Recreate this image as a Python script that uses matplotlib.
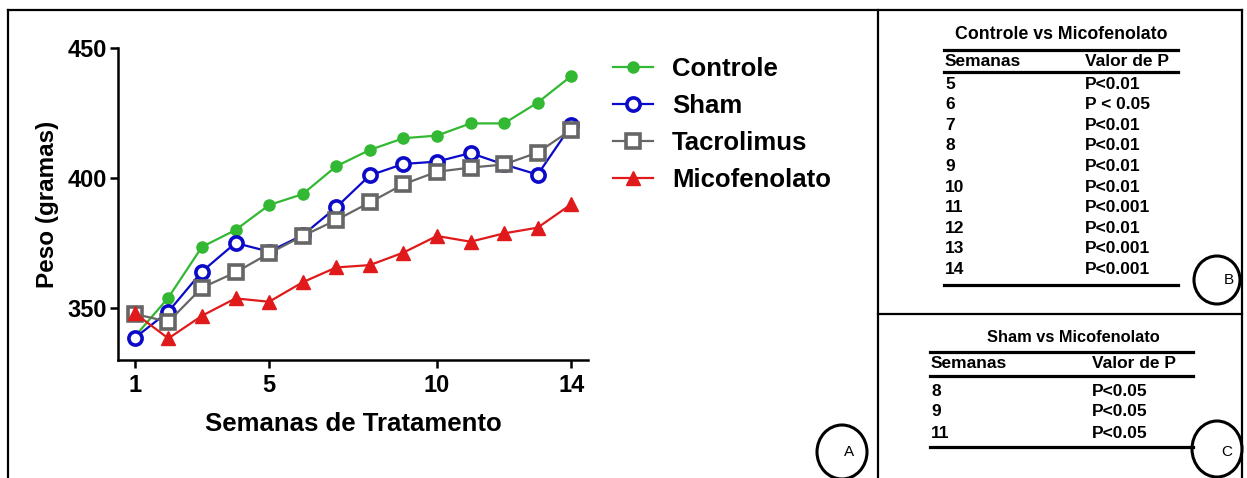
#!/usr/bin/env python3
"""Body weight over treatment weeks, plus P-value tables (panels A, B, C)."""

import matplotlib
matplotlib.use("Agg")
import matplotlib.pyplot as plt
from matplotlib.patches import Ellipse

plt.rcParams["font.family"] = ["Liberation Sans", "DejaVu Sans"]
plt.rcParams["font.weight"] = "bold"

# data
weeks = list(range(1, 15))
controle = [339, 354, 373.5, 380, 389.6, 393.8, 404.5, 410.8, 415.3, 416.3, 421, 421, 429, 439.2]
sham = [338.5, 348.6, 364, 375, 371.7, 378, 388.7, 401, 405.4, 406.3, 409.6, 405.2, 401.3, 420.2]
tacrolimus = [347.7, 344.7, 357.8, 363.7, 371, 377.7, 383.8, 390.6, 397.6, 402.4, 404, 405.2, 409.8, 418.5]
micofenolato = [348, 338.3, 347, 353.7, 352.4, 359.9, 365.6, 366.5, 371.3, 377.7, 375.5, 378.7, 380.9, 389.9]

xticks = [1, 5, 10, 14]
yticks = [350, 400, 450]

# table B
title_b = "Controle vs Micofenolato"
weeks_b = ["5", "6", "7", "8", "9", "10", "11", "12", "13", "14"]
pvals_b = ["P<0.01", "P < 0.05", "P<0.01", "P<0.01", "P<0.01", "P<0.01",
           "P<0.001", "P<0.01", "P<0.001", "P<0.001"]
# table C
title_c = "Sham vs Micofenolato"
weeks_c = ["8", "9", "11"]
pvals_c = ["P<0.05", "P<0.05", "P<0.05"]

W, H = 1247, 478
fig = plt.figure(figsize=(W / 100, H / 100), dpi=100)

# overlay in pixel coords for the frame, tables and panel letters
ov = fig.add_axes([0, 0, 1, 1])
ov.set_xlim(0, W)
ov.set_ylim(H, 0)
ov.axis("off")

lw_frame = 1.6
ov.plot([8, 1242], [10, 10], color="black", lw=lw_frame)
ov.plot([8, 8], [10, H], color="black", lw=lw_frame)
ov.plot([878, 878], [10, H], color="black", lw=lw_frame)
ov.plot([1242, 1242], [10, H], color="black", lw=lw_frame)
ov.plot([878, 1242], [314, 314], color="black", lw=lw_frame)


def draw_table(title, col1, col2, x0, x1, xc2, title_xy, y_line1, y_head, y_line2,
               rows_y, y_bottom, fs_title, fs):
    ov.text(title_xy[0], title_xy[1], title, ha="center", va="center",
            fontsize=fs_title, fontweight="bold")
    ov.plot([x0, x1], [y_line1, y_line1], color="black", lw=2.3)
    ov.text(x0 + 1, y_head, "Semanas", ha="left", va="center", fontsize=fs, fontweight="bold")
    ov.text(xc2, y_head, "Valor de P", ha="left", va="center", fontsize=fs, fontweight="bold")
    ov.plot([x0, x1], [y_line2, y_line2], color="black", lw=2.3)
    for y, a, b in zip(rows_y, col1, col2):
        ov.text(x0 + 1, y, a, ha="left", va="center", fontsize=fs, fontweight="bold")
        ov.text(xc2, y, b, ha="left", va="center", fontsize=fs, fontweight="bold")
    ov.plot([x0, x1], [y_bottom, y_bottom], color="black", lw=2.3)


rows_b = [84 + i * 20.6 for i in range(len(weeks_b))]
draw_table(title_b, weeks_b, pvals_b, 944, 1178, 1085, (1061, 34), 50, 61, 72,
           rows_b, 285, 12.8, 12.5)
rows_c = [391 + i * 21 for i in range(len(weeks_c))]
draw_table(title_c, weeks_c, pvals_c, 930, 1193, 1092, (1073, 337), 352, 364, 376,
           rows_c, 447, 11.8, 12.5)

for (cx, cy, w, h), lab, (tx, ty) in [((842, 452, 50, 54), "A", (849, 452)),
                                      ((1217, 280, 46, 48), "B", (1229, 280)),
                                      ((1217, 449, 50, 56), "C", (1227, 452))]:
    ov.add_patch(Ellipse((cx, cy), w, h, fill=False, edgecolor="black", lw=2.2))
    ov.text(tx, ty, lab, ha="center", va="center", fontsize=11, fontweight="normal")

# main chart
ax = fig.add_axes([118 / W, 1 - 360 / H, 470 / W, 312 / H])
ax.patch.set_alpha(0)

ax.plot(weeks, controle, color="#33b833", lw=1.6, marker="o", ms=8,
        mfc="#33b833", mec="#33b833", label="Controle")
ax.plot(weeks, sham, color="#0a0ac8", lw=1.6, marker="o", ms=9.5,
        mfc="white", mec="#0a0ac8", mew=2.6, label="Sham")
ax.plot(weeks, tacrolimus, color="#666666", lw=1.6, marker="s", ms=9.5,
        mfc="white", mec="#666666", mew=2.6, label="Tacrolimus")
ax.plot(weeks, micofenolato, color="#e01a1a", lw=1.6, marker="^", ms=9.5,
        mfc="#e01a1a", mec="#e01a1a", label="Micofenolato")

ax.set_xlim(0.5, 14.5)
ax.set_ylim(330, 450)
ax.set_xticks(xticks)
ax.set_yticks(yticks)
for s in ["top", "right"]:
    ax.spines[s].set_visible(False)
for s in ["left", "bottom"]:
    ax.spines[s].set_linewidth(1.8)
ax.tick_params(axis="both", direction="out", length=6, width=1.8, labelsize=17)
ax.tick_params(axis="y", pad=2)
ax.tick_params(axis="x", pad=4)
for lbl in ax.get_xticklabels() + ax.get_yticklabels():
    lbl.set_fontweight("bold")

ax.set_xlabel("Semanas de Tratamento", fontsize=18.5, fontweight="bold", labelpad=11)
ax.set_ylabel("Peso (gramas)", fontsize=17.5, fontweight="bold", labelpad=6)

ax.legend(loc="upper left", bbox_to_anchor=(613 / W, 1 - 57 / H), bbox_transform=fig.transFigure,
          frameon=False, handlelength=1.55, handletextpad=0.75,
          labelspacing=0.5, borderpad=0, borderaxespad=0,
          prop={"weight": "bold", "size": 18.5})

fig.savefig("out.png", dpi=100)
